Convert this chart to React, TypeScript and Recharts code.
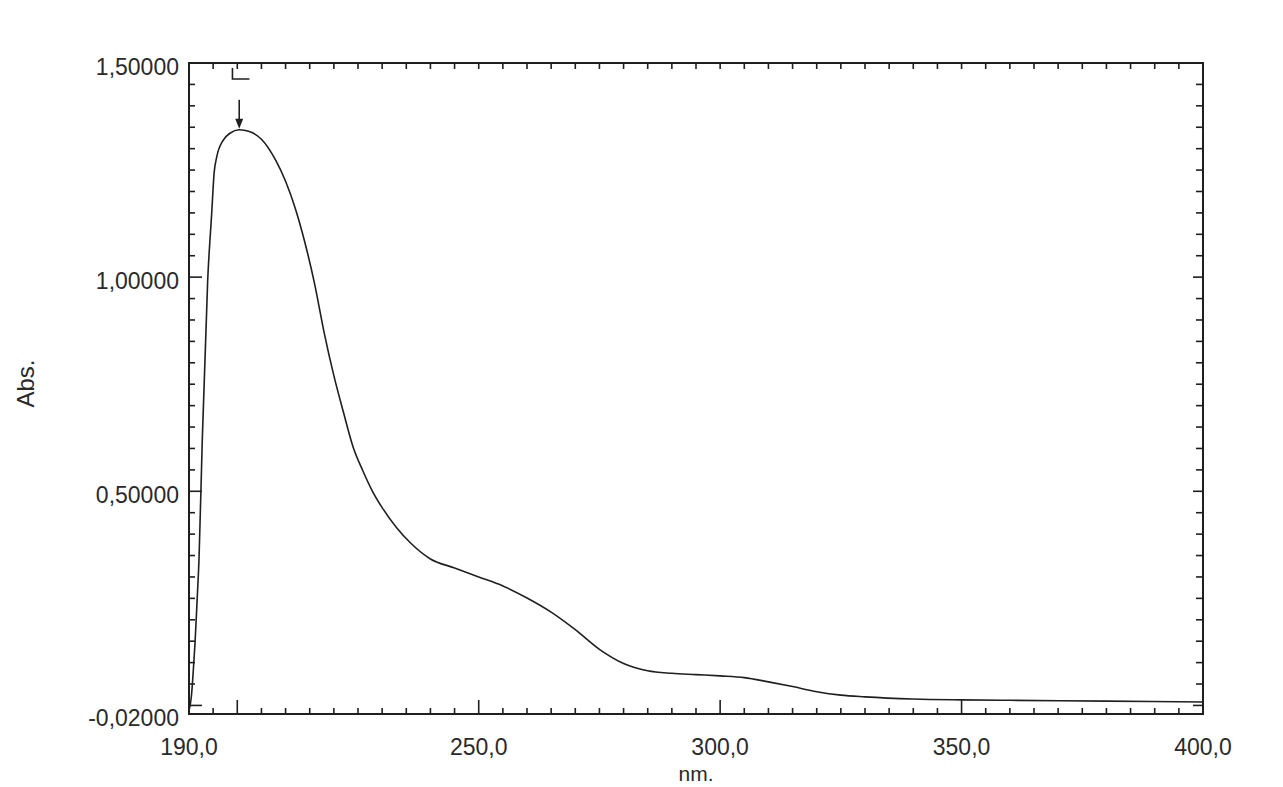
import React from 'react';
import { LineChart, Line, XAxis, YAxis, ReferenceArea, ReferenceDot, Label } from 'recharts';

// UV absorption spectrum: wavelength (nm) and absorbance readings
const wavelength = [
  190.0, 190.5, 190.9, 191.25, 191.7, 192.07, 192.75, 193.87, 194.7, 195.2,
  195.75, 197.1, 198.5, 200.4, 202.5, 205, 208, 210, 212, 214,
  216, 218, 220, 222, 224, 226, 228, 230, 233, 236,
  240, 245, 250, 255, 260, 265, 270, 275, 280, 285,
  290, 295, 300, 305, 310, 315, 320, 325, 330, 340,
  350, 360, 380, 400,
];
const absorbance = [
  -0.012, 0.022, 0.083, 0.146, 0.25, 0.34, 0.62, 0.993, 1.149, 1.243,
  1.281, 1.32, 1.336, 1.344, 1.34, 1.322, 1.272, 1.224, 1.161, 1.081,
  0.985, 0.87, 0.77, 0.684, 0.603, 0.548, 0.5, 0.462, 0.415, 0.378,
  0.342, 0.321, 0.3, 0.279, 0.251, 0.218, 0.177, 0.131, 0.098, 0.081,
  0.075, 0.072, 0.069, 0.065, 0.055, 0.044, 0.032, 0.024, 0.02, 0.015,
  0.013, 0.012, 0.01, 0.008,
];

// Axis ranges and labelled ticks
const X_MIN = 190;
const X_MAX = 400;
const Y_MIN = -0.02;
const Y_MAX = 1.5;
const xLabelTicks = [190, 250, 300, 350, 400];
const yLabelTicks = [-0.02, 0.5, 1.0, 1.5];

// Peak pick annotation
const peakNm = 200.4;
const peakAbs = 1.344;
const markerNm = 199;

// Minor tick grid: every 5 nm and every 0.05 Abs
const xTicks: number[] = [];
for (let v = X_MIN; v <= X_MAX; v += 5) xTicks.push(v);
const yTicks: number[] = [Y_MIN];
for (let i = 0; i <= 30; i++) yTicks.push(Math.round(i * 5) / 100);

const data = wavelength.map((nm, i) => ({ nm, abs: absorbance[i] }));

const W = 1283;
const H = 787;
const MARGIN = { top: 63, right: 80, bottom: 0, left: 14 };
const Y_AXIS_W = 175;
const X_AXIS_H = 73;
const PLOT_TOP = MARGIN.top;
const PLOT_RIGHT = W - MARGIN.right;

const INK = '#1f1f1f';
const TEXT = '#2a2a2a';
const FONT = '"Liberation Sans", Arial, sans-serif';

const fmtX = (v: number) => v.toFixed(1).replace('.', ',');
const fmtY = (v: number) => v.toFixed(5).replace('.', ',');

function BottomTick(props: any) {
  const { x, y, payload } = props;
  const v = payload.value as number;
  const major = v % 50 === 0;
  const labelled = xLabelTicks.includes(v);
  const edge = v === X_MIN || v === X_MAX;
  return (
    <g>
      {!edge && (
        <>
          <line x1={x} x2={x} y1={y} y2={y - (major ? 14 : 6)} stroke={INK} strokeWidth={1.6} />
          <line x1={x} x2={x} y1={PLOT_TOP} y2={PLOT_TOP + 6} stroke={INK} strokeWidth={1.6} />
        </>
      )}
      {labelled && (
        <text x={x} y={y + 41} textAnchor="middle" fontSize={23} fill={TEXT} fontFamily={FONT}>
          {fmtX(v)}
        </text>
      )}
    </g>
  );
}

function LeftTick(props: any) {
  const { x, y, payload } = props;
  const v = payload.value as number;
  const major = Math.abs(v * 2 - Math.round(v * 2)) < 1e-6;
  const labelled = yLabelTicks.some((t) => Math.abs(t - v) < 1e-9);
  const edge = Math.abs(v - Y_MIN) < 1e-9 || Math.abs(v - Y_MAX) < 1e-9;
  return (
    <g>
      {!edge && (
        <>
          <line x1={x} x2={x + (major ? 13 : 6)} y1={y} y2={y} stroke={INK} strokeWidth={1.6} />
          <line x1={PLOT_RIGHT} x2={PLOT_RIGHT - (major ? 10 : 7)} y1={y} y2={y} stroke={INK} strokeWidth={1.6} />
        </>
      )}
      {labelled && (
        <text x={x - 10} y={y + 12} textAnchor="end" fontSize={23} fill={TEXT} fontFamily={FONT}>
          {fmtY(v)}
        </text>
      )}
    </g>
  );
}

// Downward arrow pointing at the absorption maximum
function PeakArrow(props: any) {
  const { cx, cy } = props;
  return (
    <g>
      <line x1={cx} x2={cx} y1={cy - 30} y2={cy - 6} stroke={INK} strokeWidth={1.6} />
      <path d={`M${cx - 4},${cy - 11} L${cx + 4},${cy - 11} L${cx},${cy - 1} Z`} fill={INK} />
    </g>
  );
}

// Peak pick marker hanging from the top frame
function PeakMarker(props: any) {
  const { cx, cy } = props;
  return (
    <path
      d={`M${cx},${cy + 5} L${cx},${cy + 16} L${cx + 17},${cy + 16}`}
      stroke={INK}
      strokeWidth={1.6}
      fill="none"
    />
  );
}

export default function App() {
  return (
    <div style={{ position: 'absolute', left: 0, top: 0, width: W, height: H, background: '#ffffff' }}>
      <LineChart width={W} height={H} data={data} margin={MARGIN}>
        <XAxis
          dataKey="nm"
          type="number"
          domain={[X_MIN, X_MAX]}
          allowDataOverflow
          ticks={xTicks}
          interval={0}
          tickSize={0}
          tickMargin={0}
          axisLine={false}
          tickLine={false}
          tick={<BottomTick />}
          height={X_AXIS_H}
        >
          <Label
            content={(p: any) => {
              const vb = p.viewBox;
              return (
                <text
                  x={vb.x + vb.width / 2}
                  y={vb.y + 67}
                  textAnchor="middle"
                  fontSize={21}
                  fill={TEXT}
                  fontFamily={FONT}
                >
                  nm.
                </text>
              );
            }}
          />
        </XAxis>
        <YAxis
          type="number"
          domain={[Y_MIN, Y_MAX]}
          allowDataOverflow
          ticks={yTicks}
          interval={0}
          tickSize={0}
          tickMargin={0}
          axisLine={false}
          tickLine={false}
          tick={<LeftTick />}
          width={Y_AXIS_W}
        >
          <Label
            content={(p: any) => {
              const vb = p.viewBox;
              const cx = vb.x + 11;
              const cy = vb.y + vb.height / 2 - 5;
              return (
                <text
                  x={cx}
                  y={cy}
                  transform={`rotate(-90, ${cx}, ${cy})`}
                  textAnchor="middle"
                  dominantBaseline="central"
                  fontSize={24}
                  fill={TEXT}
                  fontFamily={FONT}
                >
                  Abs.
                </text>
              );
            }}
          />
        </YAxis>
        <ReferenceArea
          x1={X_MIN}
          x2={X_MAX}
          y1={Y_MIN}
          y2={Y_MAX}
          stroke={INK}
          strokeWidth={2}
          fill="none"
          fillOpacity={0}
        />
        <Line
          type="monotone"
          dataKey="abs"
          stroke={INK}
          strokeWidth={1.6}
          dot={false}
          activeDot={false}
          isAnimationActive={false}
        />
        <ReferenceDot x={peakNm} y={peakAbs} r={0} shape={<PeakArrow />} />
        <ReferenceDot x={markerNm} y={Y_MAX} r={0} shape={<PeakMarker />} />
      </LineChart>
    </div>
  );
}
